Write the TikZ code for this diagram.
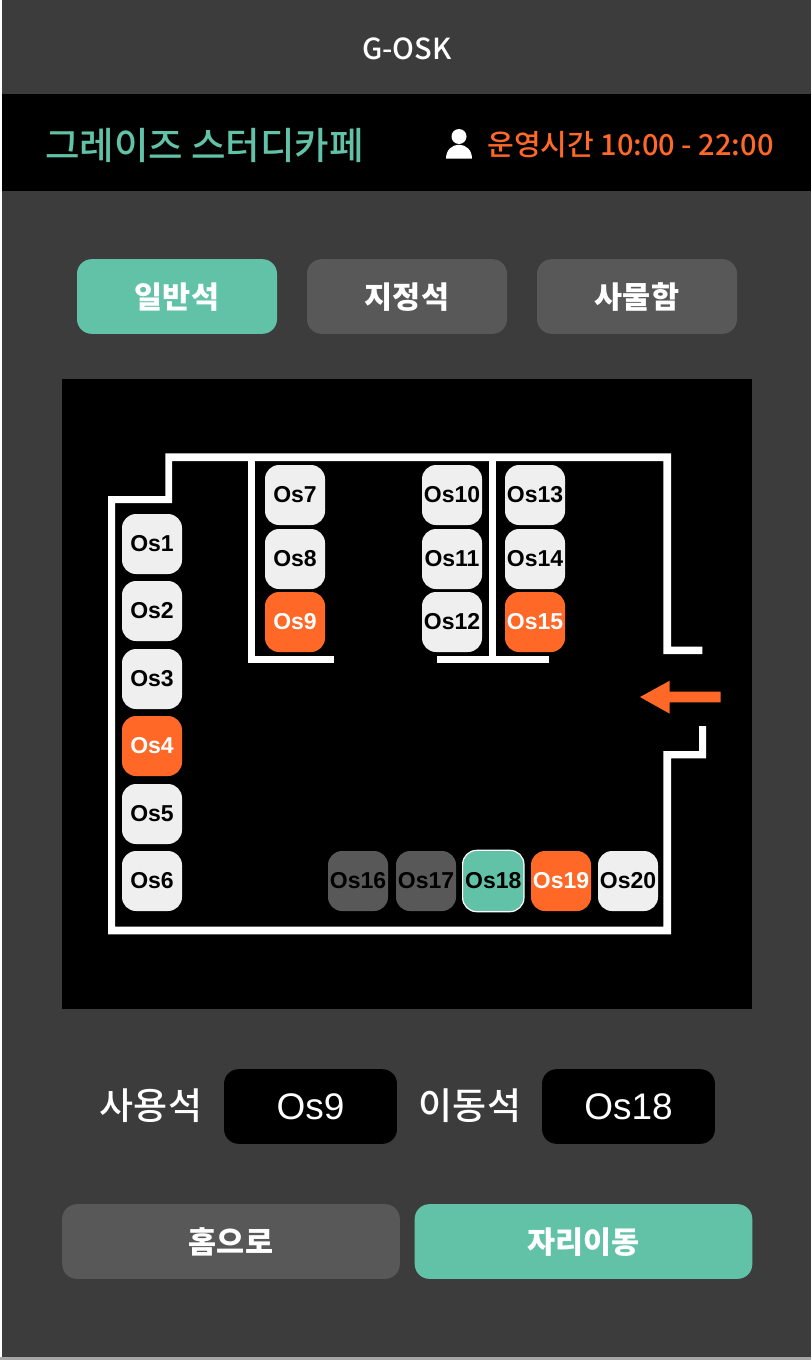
\documentclass[tikz,border=0pt]{standalone}
\usepackage{fontspec}
\setmainfont{Liberation Sans}
\newfontfamily\kr{Noto Sans CJK KR}
\newfontfamily\krm{Noto Sans CJK KR Medium}
\definecolor{bgc}{HTML}{3C3C3C}
\definecolor{grayc}{HTML}{585858}
\definecolor{mint}{HTML}{62C2A8}
\definecolor{orng}{HTML}{FF6827}
\definecolor{seatc}{HTML}{EFEFEF}
\newcommand{\pxf}[1]{\fontsize{\dimexpr#1pt*3/4\relax}{\dimexpr#1pt\relax}\selectfont}
\tikzset{
 x=0.75pt,y=-0.75pt,
 seat/.style={rounded corners=10.5pt,minimum width=45pt,minimum height=45pt,inner sep=0pt,font=\bfseries\pxf{23},text=black,fill=seatc,text depth=0.8pt,text height=12.5pt},
 seatuse/.style={seat,fill=orng,text=white},
 seatoff/.style={seat,fill=grayc},
 seatsel/.style={seat,fill=mint,draw=white,line width=0.9pt,minimum width=46pt,minimum height=46pt},
 tab/.style={rounded corners=11pt,minimum width=150pt,minimum height=56pt,inner sep=0pt},
 tabtext/.style={text=white,font=\kr\bfseries\pxf{30.5},inner sep=0pt},
 action/.style={rounded corners=11pt,minimum width=253.2pt,minimum height=56pt,inner sep=0pt},
 valbox/.style={rounded corners=11pt,fill=black,minimum width=129.7pt,minimum height=56pt,inner sep=0pt},
 valtext/.style={text=white,font=\pxf{37},inner sep=0pt},
 lbl/.style={text=white,font=\krm\pxf{37},inner sep=0pt},
 wall/.style={fill=white,draw=none},
}
\begin{document}
\begin{tikzpicture}
\useasboundingbox (0,0) rectangle (811,1360);
\fill[white] (0,0) rectangle (811,1360);
\fill[bgc] (2,0) rectangle (811,1357);
\fill[gray!70] (0,1357) rectangle (811,1360);
\fill[black] (2,94) rectangle (811,191);
\node[text=white,font=\krm\pxf{29},inner sep=0pt] (title) at (407,48.5) {G-OSK};
\node[text=mint,font=\krm\pxf{37.5},inner sep=0pt] (cafe) at (204.5,145) {그레이즈 스터디카페};
\node[text=orng,font=\krm\pxf{29},inner sep=0pt] (hours) at (630.5,144.5) {운영시간 10:00 - 22:00};
\fill[white] (459,136.5) ellipse (7.5 and 7.5);
\fill[white] (446,158.7) .. controls (446,150) and (452,144.7) .. (459,144.7) .. controls (466,144.7) and (472,150) .. (472,158.7) -- cycle;
\node[tab,fill=mint] (t1) at (177,296.5) {};
\node[tab,fill=grayc] (t2) at (407,296.5) {};
\node[tab,fill=grayc] (t3) at (637,296.5) {};
\node[tabtext] at (177,297) {일반석};
\node[tabtext] at (407,297) {지정석};
\node[tabtext] at (637,297) {사물함};
\fill[black] (62,379) rectangle (752,1009);
% walls
\fill[wall] (108,934.3) -- (108,496) -- (165.3,496) -- (165.3,453.3) -- (671,453.3) -- (671,646.7) -- (702.3,646.7) -- (702.3,654) -- (663.3,654) -- (663.3,461) -- (172,461) -- (172,503) -- (115,503) -- (115,926.7) -- (663.3,926.7) -- (663.3,751) -- (699,751) -- (699,726) -- (706,726) -- (706,758.3) -- (671,758.3) -- (671,934.3) -- cycle;
\fill[wall] (247.7,461) rectangle (255,663.3);
\fill[wall] (247.7,656) rectangle (334.3,663.3);
\fill[wall] (489.3,461) rectangle (496.3,663.3);
\fill[wall] (437.3,656) rectangle (549.3,663.3);
% arrow
\fill[orng] (640,697) -- (669.7,680.7) -- (669.7,691.7) -- (720.7,691.7) -- (720.7,702.3) -- (669.7,702.3) -- (669.7,713.7) -- cycle;
% seats
\node[seat] (s1) at (152,544) {Os1};
\node[seat] (s2) at (152,611) {Os2};
\node[seat] (s3) at (152,679) {Os3};
\node[seatuse] (s4) at (152,746) {Os4};
\node[seat] (s5) at (152,814) {Os5};
\node[seat] (s6) at (152,881) {Os6};
\node[seat] (s7) at (295,495) {Os7};
\node[seat] (s8) at (295,559) {Os8};
\node[seatuse] (s9) at (295,622) {Os9};
\node[seat] (s10) at (452,495) {Os10};
\node[seat] (s11) at (452,559) {Os11};
\node[seat] (s12) at (452,622) {Os12};
\node[seat] (s13) at (535,495) {Os13};
\node[seat] (s14) at (535,559) {Os14};
\node[seatuse] (s15) at (535,622) {Os15};
\node[seatoff] (s16) at (358,881) {Os16};
\node[seatoff] (s17) at (426,881) {Os17};
\node[seatsel] (s18) at (493.3,881) {Os18};
\node[seatuse] (s19) at (561,881) {Os19};
\node[seat] (s20) at (628,881) {Os20};
% bottom
\node[lbl] (u) at (151,1106) {사용석};
\node[valbox] (uv) at (310.5,1106.5) {};
\node[valtext] at (310.5,1106.5) {Os9};
\node[lbl] (m) at (470,1106) {이동석};
\node[valbox] (mv) at (628.5,1106.5) {};
\node[valtext] at (628.5,1106.5) {Os18};
\node[action,fill=grayc] (home) at (231,1241.5) {};
\node[action,fill=mint] (move) at (583.5,1241.5) {};
\node[tabtext] at (231,1242) {홈으로};
\node[tabtext] at (583.5,1242) {자리이동};
\end{tikzpicture}
\end{document}
